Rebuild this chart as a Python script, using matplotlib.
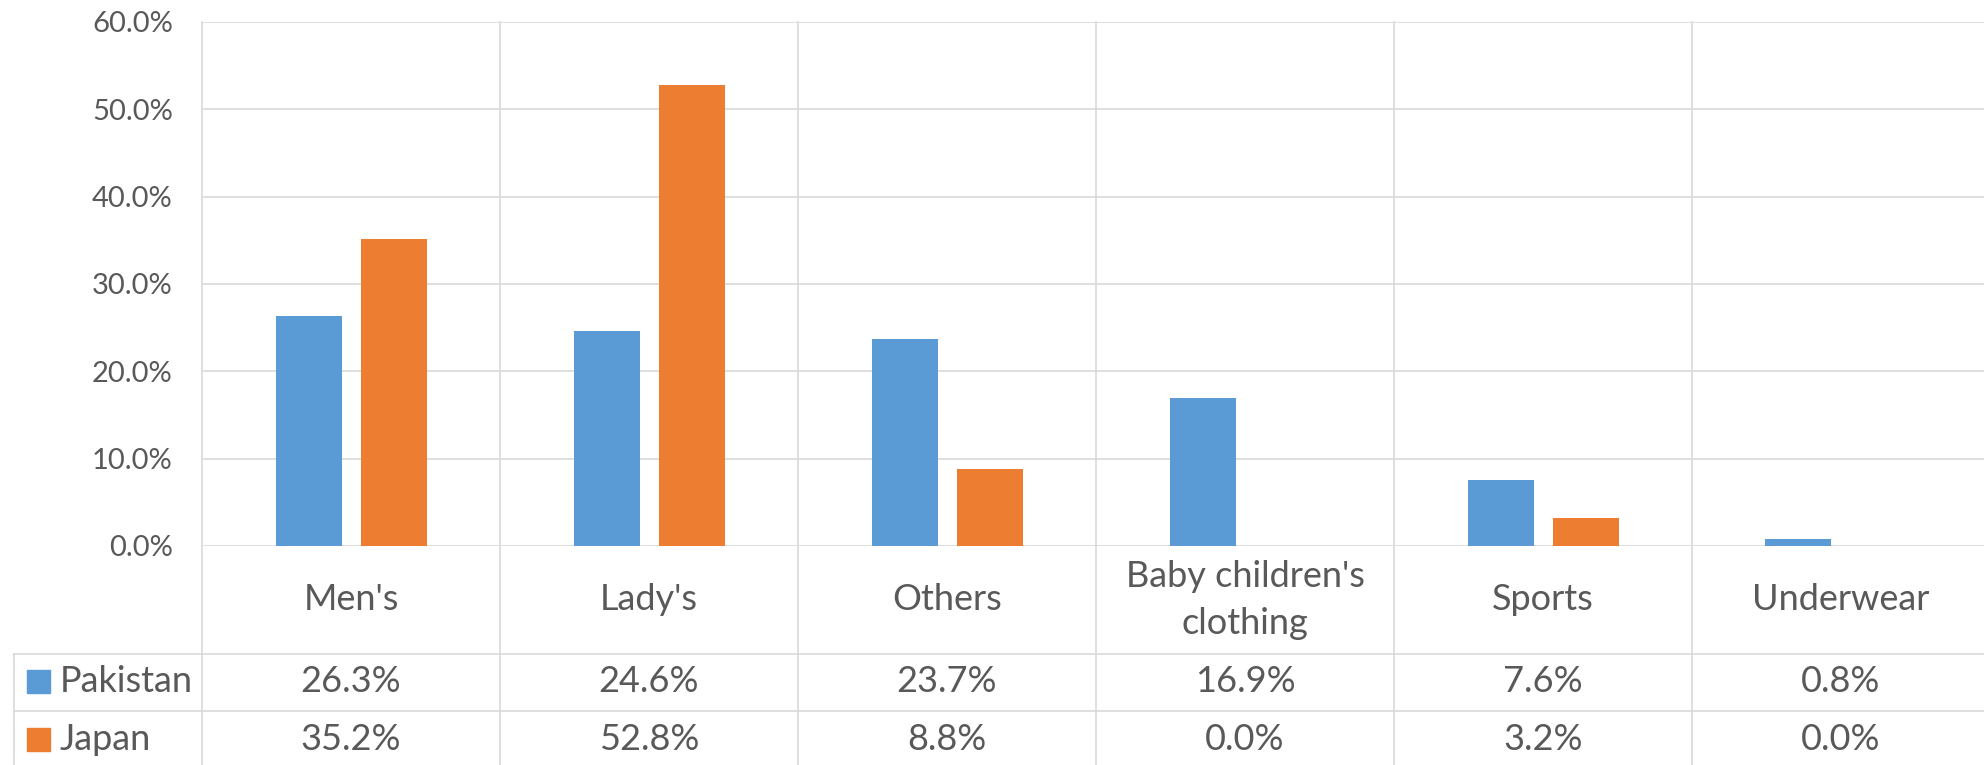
import numpy as np
import matplotlib
matplotlib.use("Agg")
import matplotlib.pyplot as plt
from matplotlib.transforms import blended_transform_factory
from matplotlib.patches import Rectangle

categories = ["Men's", "Lady's", "Others", "Baby children's\nclothing", "Sports", "Underwear"]
series_names = ["Pakistan", "Japan"]
pakistan = [26.3, 24.6, 23.7, 16.9, 7.6, 0.8]
japan = [35.2, 52.8, 8.8, 0.0, 3.2, 0.0]
y_ticks = [0, 10, 20, 30, 40, 50, 60]

colors = ["#5B9BD5", "#ED7D31"]
text_color = "#595959"
grid_color = "#D9D9D9"
font = "Lato"

W, H = 1984, 765
fig = plt.figure(figsize=(W / 100, H / 100), dpi=100)

# plot area in pixel units (top-left origin)
px_left, px_top, px_bottom = 202, 22, 546
cat_w = 298
n = len(categories)
ax = fig.add_axes([px_left / W, (H - px_bottom) / H, n * cat_w / W, (px_bottom - px_top) / H])
ax.set_xlim(-0.5, n - 0.5)
ax.set_ylim(0, 60)
for s in ax.spines.values():
    s.set_visible(False)
ax.set_xticks([])
ax.set_yticks(y_ticks)
ax.set_yticklabels([f"{t:.1f}%" for t in y_ticks], fontsize=21, color=text_color, family=font)
ax.tick_params(axis="y", length=0, pad=21)

x = np.arange(n)
bw = 66 / cat_w
off = 42.5 / cat_w
ax.bar(x - off, pakistan, width=bw, color=colors[0], zorder=3)
ax.bar(x + off, japan, width=bw, color=colors[1], zorder=3)

# horizontal gridlines
for t in y_ticks:
    ax.axhline(t, color=grid_color, lw=1.2, zorder=1)

# helper: y in pixels -> axes fraction
def yfrac(py):
    return (px_bottom - py) / (px_bottom - px_top)

tr = blended_transform_factory(ax.transData, ax.transAxes)
row1, row2, tbl_bottom = 654, 711, 765

# vertical boundaries spanning plot and table
for b in np.arange(n + 1) - 0.5:
    ax.plot([b, b], [yfrac(px_top), yfrac(tbl_bottom + 5)], transform=tr,
            color=grid_color, lw=1.2, clip_on=False, zorder=1)

# table horizontal lines
x_tbl_left = -0.5 - (px_left - 14) / cat_w
for py in (row1, row2):
    ax.plot([x_tbl_left, n + 0.5], [yfrac(py), yfrac(py)], transform=tr,
            color=grid_color, lw=1.2, clip_on=False, zorder=1)
ax.plot([x_tbl_left, x_tbl_left], [yfrac(row1), yfrac(tbl_bottom + 5)], transform=tr,
        color=grid_color, lw=1.2, clip_on=False, zorder=1)

# category labels
for i, c in enumerate(categories):
    ax.text(i, yfrac(600), c, transform=tr, ha="center", va="center",
            fontsize=26, color=text_color, family=font, linespacing=1.55)

# data table values and legend keys
rows = [(pakistan, 681), (japan, 739)]
for (vals, py), name, col in zip(rows, series_names, colors):
    for i, v in enumerate(vals):
        ax.text(i, yfrac(py), f"{v:.1f}%", transform=tr, ha="center", va="center",
                fontsize=26, color=text_color, family=font)
    key_x = -0.5 - (px_left - 27) / cat_w
    ax.add_patch(Rectangle((key_x, yfrac(py + 11.5)), 23 / cat_w,
                           23 / (px_bottom - px_top), transform=tr,
                           color=col, clip_on=False))
    ax.text(-0.5 - (px_left - 60) / cat_w, yfrac(py), name, transform=tr,
            ha="left", va="center", fontsize=26, color=text_color, family=font)

fig.savefig("out.png", dpi=100)
